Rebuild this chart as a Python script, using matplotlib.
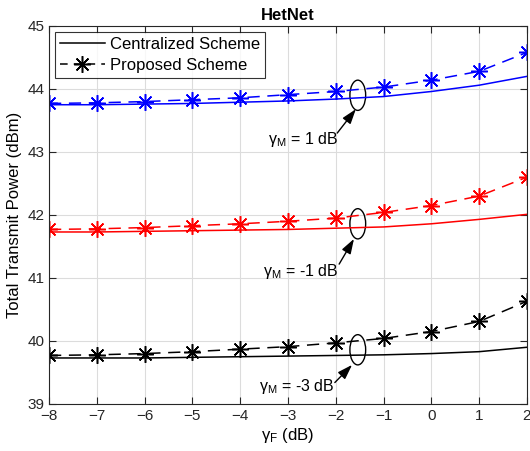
import matplotlib
matplotlib.use('Agg')
import matplotlib.pyplot as plt
from matplotlib.patches import Ellipse

plt.rcParams['font.family'] = ['Liberation Sans', 'DejaVu Sans']
plt.rcParams['mathtext.fontset'] = 'custom'
plt.rcParams['mathtext.rm'] = 'Liberation Sans'
plt.rcParams['mathtext.it'] = 'Liberation Sans:italic'

# dados
gamma_f = [-8, -7, -6, -5, -4, -3, -2, -1, 0, 1, 2]

cent_1 = [43.75, 43.75, 43.76, 43.77, 43.79, 43.81, 43.84, 43.88, 43.96, 44.06, 44.20]
prop_1 = [43.77, 43.78, 43.80, 43.83, 43.86, 43.91, 43.96, 44.03, 44.14, 44.28, 44.58]

cent_m1 = [41.73, 41.73, 41.74, 41.75, 41.76, 41.77, 41.79, 41.81, 41.86, 41.93, 42.01]
prop_m1 = [41.77, 41.78, 41.80, 41.83, 41.86, 41.90, 41.95, 42.04, 42.15, 42.30, 42.60]

cent_m3 = [39.73, 39.73, 39.73, 39.74, 39.75, 39.76, 39.77, 39.78, 39.80, 39.83, 39.90]
prop_m3 = [39.77, 39.78, 39.80, 39.83, 39.87, 39.91, 39.97, 40.04, 40.15, 40.31, 40.63]

gamma_m_labels = ['γ$_\\mathrm{M}$ = 1 dB', 'γ$_\\mathrm{M}$ = -1 dB', 'γ$_\\mathrm{M}$ = -3 dB']

asterisco = (8, 2, 0)  # asterisco estilo MATLAB

fig = plt.figure(figsize=(5.3, 4.51), dpi=100)
ax = fig.add_axes([0.0925, 0.1043, 0.9018, 0.8381])

series = [(cent_1, prop_1, 'blue'), (cent_m1, prop_m1, 'red'), (cent_m3, prop_m3, 'black')]
for cent, prop, cor in series:
    ax.plot(gamma_f, cent, '-', color=cor, lw=1.1)
    ax.plot(gamma_f, prop, '--', color=cor, lw=1.1, marker=asterisco, markersize=12,
            markeredgewidth=1.1, dashes=(8, 5))

# legenda em preto
ax.plot([], [], '-', color='k', lw=1.1, label='Centralized Scheme')
ax.plot([], [], '--', color='k', lw=1.1, marker=asterisco, markersize=12,
        markeredgewidth=1.1, dashes=(5, 4), label='Proposed Scheme')
ax.legend(loc='upper left', fontsize=12, frameon=True, fancybox=False, edgecolor='k',
          borderpad=0.3, handlelength=2.7, labelspacing=0.35, borderaxespad=0.35,
          handletextpad=0.3)
ax.get_legend().get_frame().set_linewidth(0.8)

# elipses e setas
ell_y = [43.9, 41.86, 39.86]
tails = [(-1.97, 43.30), (-1.93, 41.22), (-2.02, 39.34)]
tips = [(-1.58, 43.68), (-1.62, 41.62), (-1.66, 39.62)]
texts = [(-1.95, 43.13), (-1.95, 41.03), (-2.02, 39.21)]
for yc, tl, tp, tx, lab in zip(ell_y, tails, tips, texts, gamma_m_labels):
    ax.add_patch(Ellipse((-1.54, yc), 0.33, 0.48, fill=False, edgecolor='k', lw=1.0))
    ax.annotate('', xy=tp, xytext=tl,
                arrowprops=dict(arrowstyle='-|>,head_length=0.9,head_width=0.3',
                                color='k', lw=1.0, shrinkA=0, shrinkB=0))
    ax.text(tx[0], tx[1], lab, fontsize=11.5, ha='right', va='baseline')

ax.set_xlim(-8, 2)
ax.set_ylim(39, 45)
ax.set_xticks(range(-8, 3))
ax.set_yticks(range(39, 46))
ax.tick_params(direction='in', labelsize=11, length=5, top=True, right=True, colors='#262626')
ax.grid(True, color='#dcdcdc', lw=0.8)
ax.set_axisbelow(True)
for s in ax.spines.values():
    s.set_color('#262626')
    s.set_linewidth(0.8)

ax.set_title('HetNet', fontsize=12, fontweight='bold', pad=4)
ax.set_xlabel('γ$_\\mathrm{F}$ (dB)', fontsize=12, labelpad=2)
ax.set_ylabel('Total Transmit Power (dBm)', fontsize=12, labelpad=4)

fig.savefig('out.png', dpi=100)
